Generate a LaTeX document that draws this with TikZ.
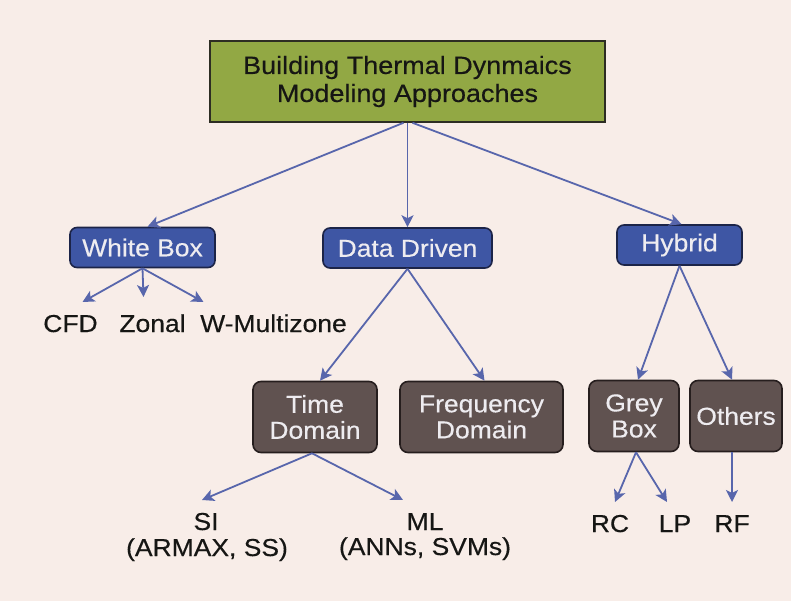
\documentclass[tikz,border=0pt]{standalone}
\usepackage{fontspec}
\setmainfont{Liberation Sans}[FakeStretch=1.08, FakeBold=0.4]
\usetikzlibrary{arrows.meta}

\definecolor{bgpink}{RGB}{248,237,232}
\definecolor{olivefill}{RGB}{146,168,68}
\definecolor{oliveedge}{RGB}{45,45,35}
\definecolor{bluefill}{RGB}{62,86,164}
\definecolor{blueedge}{RGB}{28,36,72}
\definecolor{brownfill}{RGB}{96,82,80}
\definecolor{brownedge}{RGB}{38,30,30}
\definecolor{arrowblue}{RGB}{88,102,172}
\definecolor{inktext}{RGB}{22,22,20}
\definecolor{lighttext}{RGB}{238,236,240}

\begin{document}
\begin{tikzpicture}[x=1pt,y=-1pt,
  titlebox/.style={draw=oliveedge, line width=1.6pt, fill=olivefill,
    minimum width=395pt, minimum height=81pt, inner sep=0pt, align=center,
    text=inktext, font=\fontsize{25}{28}\selectfont},
  bluebox/.style={draw=blueedge, line width=1.6pt, fill=bluefill,
    rounded corners=7pt, minimum height=40pt, inner sep=0pt,
    text=lighttext, font=\fontsize{24.5}{26}\selectfont},
  brownbox/.style={draw=brownedge, line width=1.6pt, fill=brownfill,
    rounded corners=8pt, minimum height=71pt, inner sep=0pt, align=center,
    text=lighttext, font=\fontsize{24.5}{26}\selectfont},
  leaf/.style={inner xsep=0pt, inner ysep=0pt, outer ysep=12pt,
    text height=18pt, text depth=5pt, anchor=base,
    text=inktext, font=\fontsize{24.5}{26}\selectfont},
  arr/.style={draw=arrowblue, line width=1.8pt,
    -{Stealth[length=12pt,width=12pt,inset=3pt]}}
]
% background and frame of the page
\fill[bgpink] (0,0) rectangle (791,601);
\useasboundingbox (0,0) rectangle (791,601);

% root
\node[titlebox] (title) at (407.5,81.5) {Building Thermal Dynmaics\\Modeling Approaches};

% first level
\node[bluebox, minimum width=145pt] (whitebox) at (142.5,247.5) {White Box};
\node[bluebox, minimum width=169pt] (datadriven) at (407.5,248) {Data Driven};
\node[bluebox, minimum width=125pt] (hybrid) at (679.5,245) {Hybrid};

% second level
\node[brownbox, minimum width=124pt] (timedom) at (315,417) {Time\\Domain};
\node[brownbox, minimum width=163pt] (freqdom) at (481.5,417) {Frequency\\Domain};
\node[brownbox, minimum width=90pt] (greybox) at (634,416) {Grey\\Box};
\node[brownbox, minimum width=92pt] (others) at (736,416) {Others};

% leaves
\node[leaf] (cfd) at (70.5,332) {CFD};
\node[leaf] (zonal) at (152.5,332) {Zonal};
\node[leaf] (wmz) at (273.5,332) {W-Multizone};
\node[leaf] (si) at (206,530) {SI};
\node[leaf, outer ysep=0pt] (armax) at (207,556) {(ARMAX, SS)};
\node[leaf] (ml) at (425,530) {ML};
\node[leaf, outer ysep=0pt] (anns) at (425,555) {(ANNs, SVMs)};
\node[leaf] (rc) at (610,532) {RC};
\node[leaf] (lp) at (675,532) {LP};
\node[leaf] (rf) at (732,532) {RF};

% root to first level
\draw[arr] ([xshift=-4pt]title.south) -- ([xshift=5pt]whitebox.north);
\draw[arr] (title.south -| datadriven.north) -- (datadriven.north);
\draw[arr] ([xshift=5pt]title.south) -- ([xshift=2pt]hybrid.north);

% white box models
\draw[arr] (whitebox.south) -- ([xshift=12pt]cfd.north);
\draw[arr] (whitebox.south) -- ([shift={(-9,-5)}]zonal.north);
\draw[arr] (whitebox.south) -- ([xshift=-70pt]wmz.north);

% data driven branches
\draw[arr] (datadriven.south) -- ([xshift=5pt]timedom.north);
\draw[arr] (datadriven.south) -- ([xshift=3pt]freqdom.north);
\draw[arr] ([xshift=-3pt]timedom.south) -- ([xshift=-4pt]si.north);
\draw[arr] ([xshift=-3pt]timedom.south) -- ([xshift=-22pt]ml.north);

% hybrid branches
\draw[arr] (hybrid.south) -- ([xshift=4pt]greybox.north);
\draw[arr] (hybrid.south) -- ([xshift=-4pt]others.north);
\draw[arr] ([xshift=2pt]greybox.south) -- ([xshift=5pt]rc.north);
\draw[arr] ([xshift=2pt]greybox.south) -- ([xshift=-8pt]lp.north);
\draw[arr] (others.south -| rf.north) -- (rf.north);
\end{tikzpicture}
\end{document}
